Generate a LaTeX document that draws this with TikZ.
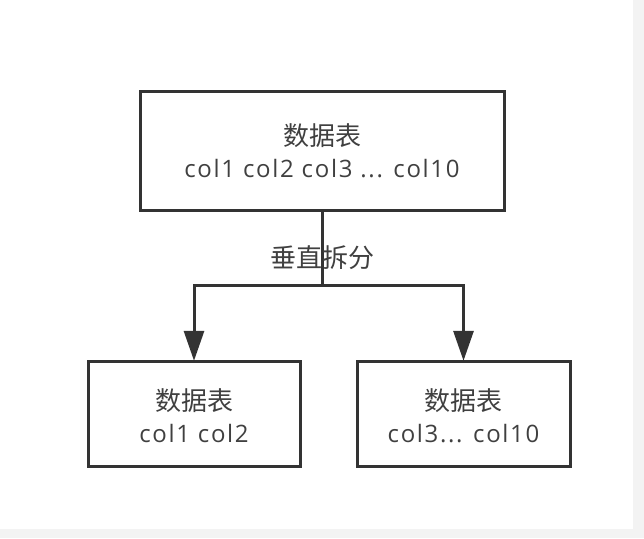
\documentclass[tikz,border=0pt]{standalone}
\usepackage{fontspec}
\setmainfont{Noto Sans CJK SC}
\newfontfamily\latinfont[LetterSpace=7]{Open Sans}
\usetikzlibrary{arrows.meta}
\definecolor{linec}{HTML}{333333}
\definecolor{textc}{HTML}{404040}
\definecolor{shadec}{HTML}{F3F3F3}
\tikzset{
  tbl/.style={draw=linec, line width=3pt, fill=white, inner sep=0pt},
  lbl/.style={text=textc, font=\fontsize{26}{32}\selectfont, align=center, inner sep=0pt},
  conn/.style={draw=linec, line width=3pt},
  arr/.style={conn, -{Triangle[length=30pt,width=20pt]}},
}
\newcommand{\lat}[1]{{\latinfont\fontsize{24}{32}\selectfont #1}}
\begin{document}
\begin{tikzpicture}[x=1pt,y=-1pt]
\useasboundingbox (0,0) rectangle (644,538);
\fill[shadec] (0,0) rectangle (644,538);
\fill[white] (0,0) rectangle (633,529);
% boxes
\draw[tbl] (140,91) rectangle (504,210);
\node[minimum width=364pt, minimum height=119pt, inner sep=0pt] (top) at (322,150.5) {};
\node[lbl] (toptxt) at (322,151) {数据表\\\lat{col1 col2 col3 ... col10}};
\draw[tbl] (88,361) rectangle (300,466);
\node[minimum width=212pt, minimum height=105pt, inner sep=0pt] (left) at (194,413.5) {};
\node[lbl] (lefttxt) at (194,416) {数据表\\\lat{col1 col2}};
\draw[tbl] (357,361) rectangle (570,466);
\node[minimum width=213pt, minimum height=105pt, inner sep=0pt] (right) at (463.5,413.5) {};
\node[lbl] (righttxt) at (463.5,416) {数据表\\\lat{col3... col10}};
% connectors
\coordinate (split) at (322,285);
\draw[conn, line cap=butt] (top.south) -- (split);
\draw[arr] (split) -| (left.north);
\draw[arr] (split) -| (right.north);
\node[lbl] (splitlbl) at (322,258) {垂直拆分};
\end{tikzpicture}
\end{document}
